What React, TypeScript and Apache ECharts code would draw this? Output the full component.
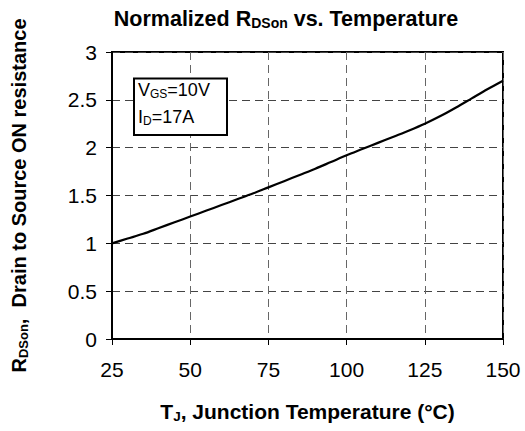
import React, { useEffect, useRef } from "react";
import * as echarts from "echarts";

const temps = [25, 30, 35, 40, 45, 50, 55, 60, 65, 70, 75, 80, 85, 90, 95, 100, 105, 110, 115, 120, 125, 130, 135, 140, 145, 150];
const rdson = [1.0, 1.05, 1.1, 1.16, 1.22, 1.28, 1.34, 1.4, 1.46, 1.52, 1.585, 1.65, 1.715, 1.78, 1.85, 1.92, 1.985, 2.05, 2.115, 2.18, 2.25, 2.33, 2.42, 2.515, 2.61, 2.7];

const titleText = "Normalized R{s|DSon} vs. Temperature";
const xName = "T{s|J}, Junction Temperature (°C)";
const yName = "R{s|DSon},  Drain to Source ON resistance";
const boxLine1 = "V{s|GS}=10V";
const boxLine2 = "I{s|D}=17A";

const FONT = "'Liberation Sans', Arial, Helvetica, sans-serif";

export default function App() {
  const ref = useRef<HTMLDivElement>(null);
  useEffect(() => {
    if (!ref.current) return;
    const chart = echarts.init(ref.current, undefined, { renderer: "svg" });
    const subBold = { fontSize: 13.5, fontWeight: "bold", fontFamily: FONT, padding: [9, 0, 0, 0] };
    chart.setOption({
      animation: false,
      backgroundColor: "#ffffff",
      grid: {
        left: 112,
        right: 22,
        top: 52,
        bottom: 92,
        containLabel: false,
        outerBoundsMode: "none",
        show: true,
        borderColor: "#000",
        borderWidth: 2,
      },
      xAxis: {
        type: "value",
        min: 25,
        max: 150,
        interval: 25,
        name: xName,
        nameLocation: "middle",
        nameGap: 61,
        nameTextStyle: {
          fontSize: 21,
          fontWeight: "bold",
          fontFamily: FONT,
          color: "#000",
          rich: { s: subBold },
        },
        axisLine: { show: true, lineStyle: { color: "#000", width: 2 } },
        axisTick: { show: true, inside: false, length: 6, lineStyle: { color: "#000", width: 1 } },
        axisLabel: { fontSize: 21, fontFamily: FONT, color: "#000", margin: 20 },
        splitLine: { show: true, lineStyle: { color: "#666", width: 1, type: [8, 5] } },
      },
      yAxis: {
        type: "value",
        min: 0,
        max: 3,
        interval: 0.5,
        name: yName,
        nameLocation: "middle",
        nameRotate: 90,
        nameGap: 82,
        nameTextStyle: {
          fontSize: 20,
          fontWeight: "bold",
          fontFamily: FONT,
          color: "#000",
          rich: { s: { ...subBold, fontSize: 13 } },
        },
        axisLine: { show: true, lineStyle: { color: "#000", width: 2 } },
        axisTick: { show: true, inside: false, length: 6, lineStyle: { color: "#000", width: 1 } },
        axisLabel: { fontSize: 21, fontFamily: FONT, color: "#000", margin: 15 },
        splitLine: { show: true, lineStyle: { color: "#444", width: 1, type: [8, 5] } },
      },
      graphic: [
        {
          type: "text",
          x: 286,
          y: 7,
          style: {
            text: titleText,
            fontSize: 21.5,
            fontWeight: "bold",
            fontFamily: FONT,
            fill: "#000",
            align: "center",
            verticalAlign: "top",
            rich: { s: { ...subBold, fontSize: 14 } },
          },
          z: 10,
        },
        {
          type: "rect",
          shape: { x: 134, y: 78.5, width: 93, height: 56.5 },
          style: { fill: "#fff", stroke: "#000", lineWidth: 2 },
          z: 10,
        },
        {
          type: "text",
          x: 138,
          y: 80,
          style: {
            text: boxLine1,
            fontSize: 18,
            fontFamily: FONT,
            fill: "#000",
            align: "left",
            verticalAlign: "top",
            rich: { s: { fontSize: 12, fontFamily: FONT, padding: [8, 0, 0, 0] } },
          },
          z: 11,
        },
        {
          type: "text",
          x: 138,
          y: 107,
          style: {
            text: boxLine2,
            fontSize: 18,
            fontFamily: FONT,
            fill: "#000",
            align: "left",
            verticalAlign: "top",
            rich: { s: { fontSize: 12, fontFamily: FONT, padding: [8, 0, 0, 0] } },
          },
          z: 11,
        },
      ],
      series: [
        {
          type: "line",
          data: temps.map((t, i) => [t, rdson[i]]),
          smooth: 0.3,
          showSymbol: false,
          lineStyle: { color: "#000", width: 2.2 },
          z: 5,
        },
      ],
    });
    return () => chart.dispose();
  }, []);
  return <div ref={ref} style={{ position: "fixed", left: 0, top: 0, width: 525, height: 431 }} />;
}
